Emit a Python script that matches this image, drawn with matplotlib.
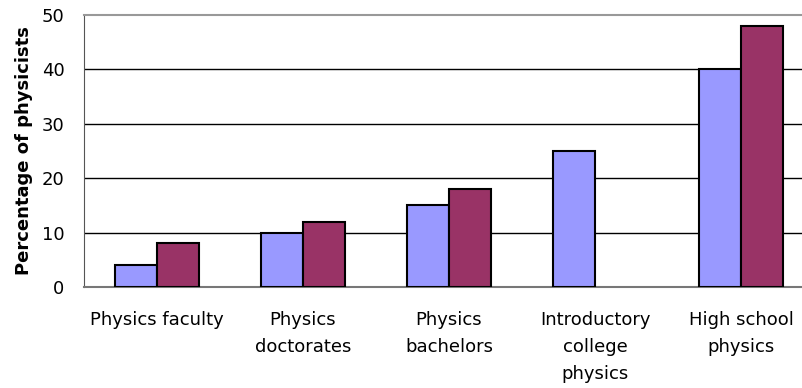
import matplotlib
matplotlib.use("Agg")
import matplotlib.pyplot as plt
import numpy as np

categories = ["Physics faculty", "Physics\ndoctorates", "Physics\nbachelors",
              "Introductory\ncollege\nphysics", "High school\nphysics"]
series_a = [4, 10, 15, 25, 40]
series_b = [8, 12, 18, np.nan, 48]
yticks = [0, 10, 20, 30, 40, 50]

plt.rcParams['font.family'] = ['DejaVu Sans']
fig = plt.figure(figsize=(8.02, 3.88), dpi=100)
ax = fig.add_axes([84/802, 101/388, 730/802, 272/388])

x = np.arange(len(categories))
w = 0.288
ax.bar(x - w/2, series_a, w, color='#9999FF', edgecolor='black', linewidth=1.5, zorder=3)
ax.bar(x + w/2, series_b, w, color='#993366', edgecolor='black', linewidth=1.5, zorder=3)

ax.set_xlim(-0.5, len(categories) - 0.5)
ax.set_ylim(0, 50)
ax.set_yticks(yticks)
ax.set_yticklabels([str(v) for v in yticks], fontsize=13)
for v in yticks[1:-1]:
    ax.axhline(v, color='black', linewidth=1, zorder=1)
ax.set_xticks(x)
ax.set_xticklabels(categories, fontsize=13, linespacing=1.65, va='top')
ax.tick_params(axis='x', length=0, pad=17)
ax.tick_params(axis='y', length=0, pad=14)
ax.set_ylabel("Percentage of physicists", fontsize=13, fontweight='bold', labelpad=6)
ax.spines['top'].set_color('#999999')
ax.spines['top'].set_linewidth(1.5)
ax.spines['bottom'].set_color('#777777')
ax.spines['bottom'].set_linewidth(1.5)
ax.spines['left'].set_color('#555555')
ax.spines['right'].set_visible(False)

fig.savefig("out.png", dpi=100)
